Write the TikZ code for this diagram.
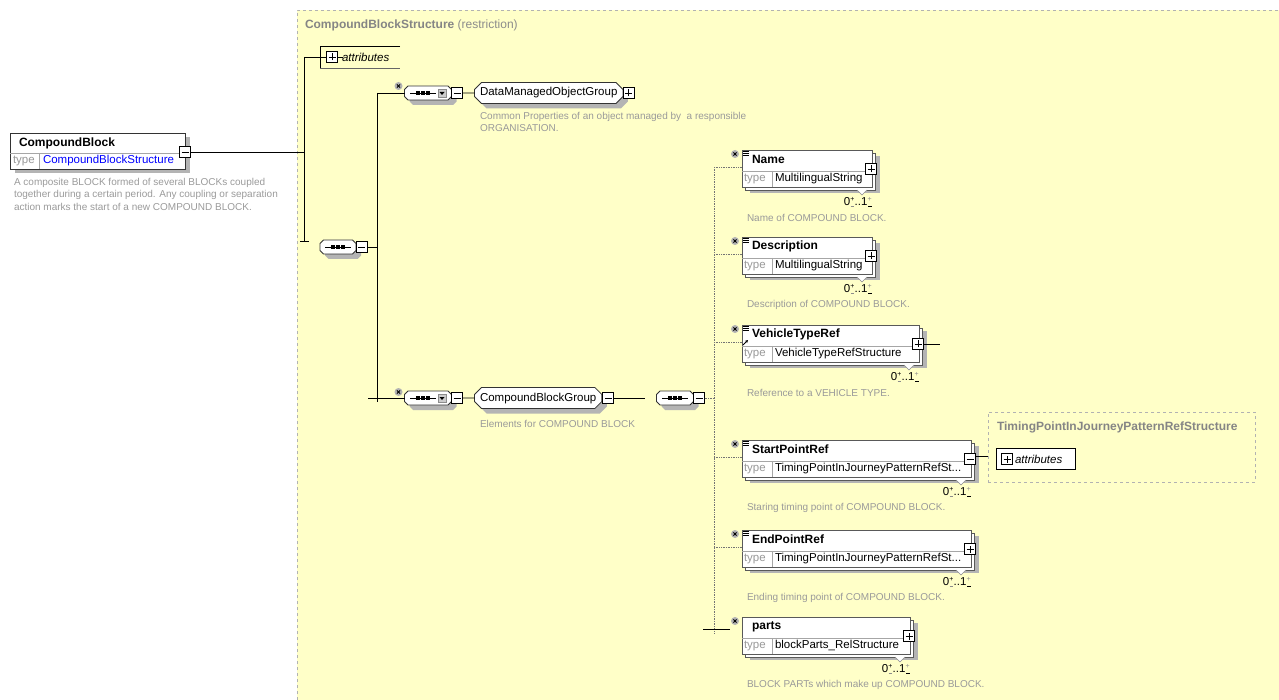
\documentclass[tikz,border=0pt]{standalone}
\usepackage{amsmath}
\usepackage{fontspec}
\setmainfont{Liberation Sans}
\usepackage{tikz}
\usetikzlibrary{positioning,calc,arrows.meta,shapes.misc,shadows}
\definecolor{xsdyellow}{HTML}{FFFFC8}
\definecolor{descgray}{HTML}{9A9A9A}
\definecolor{ttlgray}{HTML}{858585}
\definecolor{linkblue}{HTML}{0000FF}
\definecolor{shadegray}{HTML}{B4B4B4}

\tikzset{
  nosep/.style={inner sep=0pt, outer sep=0pt},
  lbl/.style={nosep, font=\fontsize{11.5}{13}\selectfont},
  boldlbl/.style={nosep, font=\fontsize{12}{14}\selectfont\bfseries},
  keylbl/.style={lbl, text=black!40},
  desctext/.style={nosep, font=\fontsize{10}{12.5}\selectfont, text=descgray, align=left},
  rowline/.style={draw=black!35, line width=0.6pt},
  busline/.style={draw=black!55, line width=0.7pt, densely dotted},
  chev/.style={draw=black!45, line width=0.6pt},
  dropgray/.style={fill=shadegray, draw=none},
  grayshadow/.style={copy shadow={shadow xshift=#1, shadow yshift=-#1, fill=shadegray, draw=none}},
  togbox/.style={nosep, draw=black, line width=0.8pt, fill=white, minimum size=11pt},
  togminus/.style={togbox, path picture={
      \draw[line width=0.7pt] ([xshift=2pt]path picture bounding box.west) -- ([xshift=-2pt]path picture bounding box.east);}},
  togplus/.style={togbox, path picture={
      \draw[line width=0.7pt] ([xshift=2pt]path picture bounding box.west) -- ([xshift=-2pt]path picture bounding box.east);
      \draw[line width=0.7pt] ([yshift=2pt]path picture bounding box.south) -- ([yshift=-2pt]path picture bounding box.north);}},
  xmark/.style={circle, nosep, fill=black!30, minimum size=8pt, path picture={
      \draw[line width=0.8pt] ([shift={(-1.6pt,-1.6pt)}]path picture bounding box.center) -- ([shift={(1.6pt,1.6pt)}]path picture bounding box.center);
      \draw[line width=0.8pt] ([shift={(-1.6pt,1.6pt)}]path picture bounding box.center) -- ([shift={(1.6pt,-1.6pt)}]path picture bounding box.center);}},
  seqnode/.style={chamfered rectangle, chamfered rectangle xsep=3.5pt, chamfered rectangle ysep=3.5pt,
      inner xsep=0pt, inner ysep=1.5pt, outer sep=0pt, text height=8.5pt, text depth=2.5pt,
      draw=black!80, fill=white, grayshadow=5pt},
  grpnode/.style={seqnode, font=\fontsize{11.5}{13}\selectfont, inner xsep=2pt},
  elbox/.style={nosep, draw=black!65, fill=white, minimum height=37pt, anchor=north west},
  cbbox/.style={nosep, draw=black!80, fill=white, anchor=north west},
  tpbox/.style={nosep, draw=black!30, dashed, fill=xsdyellow, anchor=north west},
  seqdots/.pic={
      \draw[line width=0.7pt] (-13,0) -- (13,0);
      \foreach \d in {-5,0,5} \fill (\d-1.8,-1.8) rectangle (\d+1.8,1.8);},
  ddicon/.pic={
      \filldraw[fill=black!20, draw=black!45, line width=0.5pt] (-4,-4) rectangle (4,4);
      \fill (-2.5,-1) -- (2.5,-1) -- (0,2) -- cycle;},
  listicon/.pic={
      \foreach \k in {0,2,4} \draw[line width=0.6pt] (0,\k) -- (6,\k);}
}

\newcommand{\cardsign}[2]{\makebox[4.5pt][c]{\raisebox{3.5pt}{\fontsize{7}{7}\selectfont\textcolor{#1}{+}}}\kern-4.5pt\makebox[4.5pt][c]{\textcolor{#2}{\rule[-1.5pt]{3.5pt}{0.8pt}}}}
\newcommand{\cardrange}{0\cardsign{black}{black!45}..1\cardsign{black!45}{black}}

% element box: name, top-left, width, title, type, toggle, description
\newcommand{\xelem}[7]{%
  \fill[dropgray] ($#2+(8,6)$) rectangle ++(#3,37);
  \filldraw[fill=white, draw=black!65] ($#2+(3,3)$) rectangle ++(#3,37);
  \node[elbox, minimum width=#3pt] (#1) at #2 {};
  \draw[rowline] ($(#1.north west)+(0,21)$) -- ($(#1.north east)+(0,21)$);
  \draw[rowline] ($(#1.north west)+(30,21)$) -- ($(#1.south west)+(30,0)$);
  \node[boldlbl, anchor=west] (#1-t) at ($(#1.north west)+(10,9.5)$) {#4};
  \node[keylbl, anchor=west] (#1-k) at ($(#1.north west)+(2,28.5)$) {type};
  \node[lbl, anchor=west] (#1-v) at ($(#1.north west)+(33,28.5)$) {#5};
  \filldraw[chev, fill=white] ($(#1.south east)+(-15,3)$) -- ++(5,5) -- ++(5,-5);
  \node[#6] (#1-tg) at ($(#1.north east)+(-1,19)$) {};
  \node[xmark] (#1-x) at ($(#1.north west)+(-7,4)$) {};
  \node[lbl, anchor=east] (#1-c) at ($(#1.south east)+(0,15)$) {\cardrange};
  \node[desctext, anchor=west] (#1-d) at ($(#1.south west)+(5,31)$) {#7};
  \coordinate (#1-in) at ($(#1.north west)+(0,17)$);
}

\begin{document}
\begin{tikzpicture}[x=1pt, y=-1pt, line width=0.8pt]
    \useasboundingbox (0,0) rectangle (1279,700);

    % complex type area
    \fill[xsdyellow] (297,10) rectangle (1279,700);
    \draw[black!30, dashed] (297,700) -- (297,10) -- (1279,10);
    \node[nosep, anchor=west, font=\fontsize{12}{14}\selectfont, text=ttlgray] (ttl) at (305,25)
        {\textbf{CompoundBlockStructure} {\color{black!45}(restriction)}};

    % top-level element
    \fill[dropgray] (15,137) rectangle (190,173);
    \node[cbbox, minimum width=175pt, minimum height=36pt] (cb) at (10,133) {};
    \draw[rowline] ($(cb.north west)+(0,20)$) -- ($(cb.north east)+(0,20)$);
    \draw[rowline] ($(cb.north west)+(29,20)$) -- ($(cb.south west)+(29,0)$);
    \node[boldlbl, anchor=west] (cbt) at ($(cb.north west)+(9,10)$) {CompoundBlock};
    \node[keylbl, anchor=west] (cbk) at ($(cb.north west)+(3,28)$) {type};
    \node[lbl, text=linkblue, anchor=west] (cbv) at ($(cb.north west)+(33,28)$) {CompoundBlockStructure};
    \node[togminus] (cbm) at ($(cb.north east)+(0,19)$) {};
    \node[desctext, anchor=north west] (cbd) at (14,178)
        {A composite BLOCK formed of several BLOCKs coupled\\together during a certain period. Any coupling or separation\\action marks the start of a new COMPOUND BLOCK.};

    \coordinate (b0t) at (304,57);
    \coordinate (b0b) at (304,241);
    \draw (cbm.east) -- (cbm.east -| b0t);
    \draw (b0t) -- (b0b);
    \draw ($(b0b)+(-4,0)$) -- ++(9,0);

    % attributes
    \node[nosep, minimum width=80pt, minimum height=22pt, anchor=north west] (attn) at (320,46) {};
    \draw (attn.north east) -- (attn.north west) -- (attn.south west);
    \draw[black!60, line width=0.6pt] (attn.south west) -- (attn.south east);
    \node[togplus] (atp) at (332,57) {};
    \node[lbl, anchor=west] (att) at (342,57) {\itshape attributes};
    \draw (b0t) -- (atp.west);
    \draw (atp.east) -- ++(5,0);

    % main sequence
    \node[seqnode, minimum width=36pt] (s0) at (338,247) {};
    \pic at (s0) {seqdots};
    \node[togminus, right=0pt of s0] (s0m) {};
    \coordinate (b1t) at (377,93);
    \coordinate (b1b) at (377,402);
    \draw (s0m.east) -- (s0m.east -| b1t);
    \draw (b1t) -- (b1b);

    % DataManagedObjectGroup
    \node[seqnode, minimum width=47pt] (s1) at (428,93) {};
    \pic at ($(s1)+(-5,0)$) {seqdots};
    \pic at ($(s1)+(14,0)$) {ddicon};
    \node[xmark] (s1x) at ($(s1.west)+(-6,-7)$) {};
    \node[togminus, right=0pt of s1] (s1m) {};
    \node[grpnode, right=12pt of s1m] (dmog) {DataManagedObjectGroup};
    \node[togplus, right=0pt of dmog] (dmogp) {};
    \draw (b1t) -- (s1.west);
    \draw (s1m) -- (dmog);
    \node[desctext, anchor=north west] (dmogd) at (480,112)
        {Common Properties of an object managed by \ a responsible\\ORGANISATION.};

    % CompoundBlockGroup
    \node[seqnode, minimum width=47pt] (s2) at (428,398) {};
    \pic at ($(s2)+(-5,0)$) {seqdots};
    \pic at ($(s2)+(14,0)$) {ddicon};
    \node[xmark] (s2x) at ($(s2.west)+(-6,-6)$) {};
    \node[togminus, right=0pt of s2] (s2m) {};
    \node[grpnode, right=12pt of s2m] (cbg) {CompoundBlockGroup};
    \node[togminus, right=1pt of cbg] (cbgm) {};
    \coordinate (g2end) at (645,398);
    \draw ($(b1b |- s2)+(-9,0)$) -- (s2.west);
    \draw (s2m) -- (cbg);
    \draw (cbgm.east) -- (g2end);
    \node[desctext, anchor=west] (cbgd) at (480,424) {Elements for COMPOUND BLOCK};

    % inner sequence
    \node[seqnode, minimum width=37pt] (s3) at (675,398) {};
    \pic at (s3) {seqdots};
    \node[togminus, right=0pt of s3] (s3m) {};
    \coordinate (b2t) at (714,167);
    \coordinate (b2b) at (714,633);
    \draw[busline] (s3m.east) -- (s3m.east -| b2t);
    \draw[busline] (b2t) -- (b2b);

    % elements
    \xelem{nm}{(742,150)}{130}{Name}{MultilingualString}{togplus}{Name of COMPOUND BLOCK.}
    \xelem{ds}{(742,237)}{130}{Description}{MultilingualString}{togplus}{Description of COMPOUND BLOCK.}
    \xelem{vt}{(742,325)}{177}{VehicleTypeRef}{VehicleTypeRefStructure}{togplus}{Reference to a VEHICLE TYPE.}
    \xelem{sp}{(742,440)}{229}{StartPointRef}{TimingPointInJourneyPatternRefSt...}{togminus}{Staring timing point of COMPOUND BLOCK.}
    \xelem{ep}{(742,530)}{229}{EndPointRef}{TimingPointInJourneyPatternRefSt...}{togplus}{Ending timing point of COMPOUND BLOCK.}
    \xelem{pt}{(742,617)}{168}{parts}{blockParts\_RelStructure}{togplus}{BLOCK PARTs which make up COMPOUND BLOCK.}

    \foreach \e in {nm,ds,vt,sp,ep} {
        \draw[busline] (b2t |- \e-in) -- (\e-in);
        \pic at ($(\e.north west)+(1,1)$) {listicon};
    }
    \coordinate (ptin) at ($(pt.north west)+(-12,12)$);
    \draw[line width=0.6pt] ($(ptin)+(-27,0)$) -- (ptin);
    \draw[-{Stealth[length=3pt,width=3pt]}, line width=0.9pt] ($(vt.north west)+(1,20)$) -- ++(5,-5);
    \coordinate (vtend) at ($(vt-tg.east)+(16,0)$);
    \draw (vt-tg.east) -- (vtend);

    % referenced structure
    \node[tpbox, minimum width=267pt, minimum height=70pt] (tp) at (988,412) {};
    \node[boldlbl, text=ttlgray, anchor=west] (tpt) at (997,427) {TimingPointInJourneyPatternRefStructure};
    \node[nosep, draw, fill=white, minimum width=79pt, minimum height=21pt, anchor=north west] (tpa) at (996,448) {};
    \node[togplus] (tpap) at (1007,459) {};
    \node[lbl, anchor=west] (tpat) at (1015,459) {\itshape attributes};
    \coordinate (spend) at ($(sp-tg.east)+(12,-3)$);
    \draw (sp-tg.east |- spend) -- (spend);
\end{tikzpicture}
\end{document}
